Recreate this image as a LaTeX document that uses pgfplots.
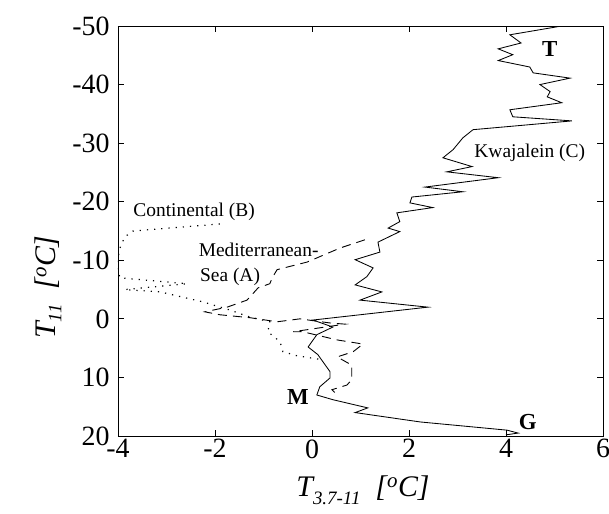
\documentclass[border=0pt]{standalone}
\usepackage{pgfplots}
\pgfplotsset{compat=1.18}
\usepackage{fontspec}
\setmainfont{Liberation Serif}
\begin{document}
\begin{tikzpicture}
\path[use as bounding box] (-118bp,-78bp) rectangle (491bp,436bp);
\begin{axis}[
  scale only axis, width=485bp, height=410bp,
  xmin=-4, xmax=6, ymin=-50, ymax=20, y dir=reverse,
  xtick={-4,-2,...,6}, ytick={-50,-40,...,20},
  tick align=inside, major tick length=6bp,
  tick pos=both,
  /pgf/number format/assume math mode=true,
  ticklabel style={font=\fontsize{28}{28}\selectfont},
  yticklabel style={xshift=-5bp},
  axis line style={line width=1pt},
  every tick/.style={black, line width=0.8pt},
  clip=true,
]
\addplot[black, line width=0.85pt] coordinates {
(5.15,-50.0) (4.08,-48.5) (4.31,-47.1) (3.84,-46.1) (4.14,-45.1) (3.84,-44.1)
(4.49,-43.0) (4.56,-42.0) (5.32,-41.1) (4.70,-40.0) (4.91,-38.8) (4.85,-37.9)
(5.15,-36.9) (4.08,-35.7) (4.14,-34.5) (5.36,-33.8) (3.32,-32.3) (3.11,-30.9)
(2.91,-28.9) (2.70,-27.5) (3.30,-26.0) (2.78,-25.1) (3.84,-24.1) (2.33,-22.5)
(3.11,-21.7) (2.06,-20.8) (2.02,-19.8) (2.49,-19.0) (1.75,-18.1) (1.81,-16.6)
(1.57,-15.5) (1.81,-14.9) (1.36,-13.1) (1.40,-11.4) (0.89,-10.1) (1.26,-8.7)
(1.13,-7.2) (0.89,-5.8) (1.44,-4.6) (0.99,-3.2) (2.39,-2.0) (0.02,0.2)
(0.43,1.4) (0.10,2.7) (-0.08,4.8) (0.12,6.1) (0.37,9.0) (0.37,10.1)
(0.16,11.6) (0.10,13.0) (0.43,13.8) (1.15,15.2) (0.89,16.0) (2.23,17.6)
(4.02,19.0) (4.25,19.5) (4.0,19.8)
};
\addplot[black, line width=0.9pt, dash pattern=on 9bp off 6bp] coordinates {
(1.09,-13.5) (0.58,-12.1) (-0.10,-9.7) (-0.72,-8.4) (-0.82,-7.0) (-0.87,-6.0)
(-1.11,-5.3) (-1.34,-3.2) (-1.75,-2.0) (-2.21,-1.2) (-1.90,-0.7) (-1.28,-0.2)
(-0.72,0.5) (-0.25,0.0) (0.37,0.7) (0.68,0.9) (-0.39,2.2) (-0.19,2.2)
(0.52,3.6) (1.05,4.3) (0.85,5.6) (0.52,6.5) (0.82,7.9) (0.82,10.4)
(0.72,11.3) (0.41,12.1) (0.52,13.0)
};
\addplot[black, line width=1.2pt, dash pattern=on 1.2bp off 6bp] coordinates {
(-1.90,-16.2) (-3.69,-15.0) (-3.86,-14.0) (-3.96,-12.1) (-4.0,-10.4) (-4.0,-8.4)
(-3.96,-7.0) (-2.58,-6.0) (-3.86,-5.0) (-3.13,-4.6) (-2.25,-2.9) (-1.69,-1.5)
(-1.28,-0.3) (-0.87,0.5) (-0.91,2.2) (-0.66,3.9) (-0.60,5.6) (-0.31,6.3) (0.23,7.0)
};
\node[font=\fontsize{23}{23}\selectfont\bfseries] at (axis cs:4.9,-46.1) {T};
\node[font=\fontsize{23}{23}\selectfont\bfseries] at (axis cs:-0.29,13.3) {M};
\node[font=\fontsize{23}{23}\selectfont\bfseries] at (axis cs:4.45,17.6) {G};
\node[font=\fontsize{19.5}{19.5}\selectfont] at (axis cs:4.49,-28.4) {Kwajalein (C)};
\node[font=\fontsize{19.5}{19.5}\selectfont] at (axis cs:-2.43,-18.3) {Continental (B)};
\node[font=\fontsize{19.5}{19.5}\selectfont] at (axis cs:-1.1,-11.8) {Mediterranean-};
\node[font=\fontsize{19.5}{19.5}\selectfont] at (axis cs:-1.69,-7.2) {Sea (A)};
\end{axis}
\node[rotate=90, font=\fontsize{30}{30}\selectfont\itshape] at (-70bp,149bp)
  {T\raisebox{-0.45ex}{\fontsize{19}{19}\selectfont 11}\ \ [\textsuperscript{o}C]};
\node[font=\fontsize{30}{30}\selectfont\itshape] at (245bp,-54bp)
  {T\raisebox{-0.55ex}{\fontsize{19}{19}\selectfont 3.7-11}\ \ [\textsuperscript{o}C]};
\end{tikzpicture}
\end{document}
